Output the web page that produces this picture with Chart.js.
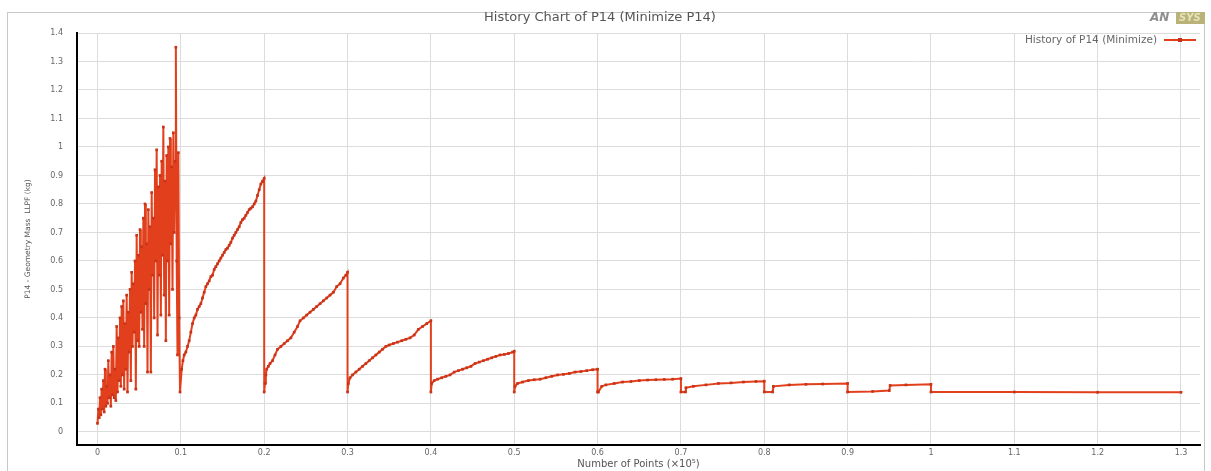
<!DOCTYPE html>
<html>
<head>
<meta charset="utf-8">
<title>History Chart of P14</title>
<script src="https://cdn.jsdelivr.net/npm/chart.js@4/dist/chart.umd.min.js"></script>
<style>
  html, body { margin: 0; padding: 0; background: #fff; }
  #historyChart { display: block; }
</style>
</head>
<body>
<canvas id="historyChart" width="1211" height="471"></canvas>
<script>
// Number of points (x axis) and P14 mass (y axis)
const pointNumber = [
  0.000, 0.001, 0.002, 0.003, 0.004, 0.005, 0.006, 0.007, 0.008, 0.009,
  0.010, 0.011, 0.012, 0.013, 0.014, 0.015, 0.016, 0.017, 0.018, 0.019,
  0.020, 0.021, 0.022, 0.023, 0.024, 0.025, 0.026, 0.027, 0.028, 0.029,
  0.030, 0.031, 0.032, 0.033, 0.034, 0.035, 0.036, 0.037, 0.038, 0.039,
  0.040, 0.041, 0.042, 0.043, 0.044, 0.045, 0.046, 0.047, 0.048, 0.049,
  0.050, 0.051, 0.052, 0.053, 0.054, 0.055, 0.056, 0.057, 0.058, 0.059,
  0.060, 0.061, 0.062, 0.063, 0.064, 0.065, 0.066, 0.067, 0.068, 0.069,
  0.070, 0.071, 0.072, 0.073, 0.074, 0.075, 0.076, 0.077, 0.078, 0.079,
  0.080, 0.081, 0.082, 0.083, 0.084, 0.085, 0.086, 0.087, 0.088, 0.089,
  0.090, 0.091, 0.092, 0.093, 0.094, 0.095, 0.096, 0.097, 0.098, 0.099,
  // 0.1 - 0.2
  0.101, 0.1025, 0.104, 0.106, 0.108, 0.110, 0.112, 0.114, 0.116, 0.118,
  0.120, 0.122, 0.124, 0.126, 0.128, 0.130, 0.132, 0.134, 0.136, 0.138,
  0.140, 0.142, 0.144, 0.146, 0.148, 0.150, 0.152, 0.154, 0.156, 0.158,
  0.160, 0.162, 0.164, 0.166, 0.168, 0.170, 0.172, 0.174, 0.176, 0.178,
  0.180, 0.182, 0.184, 0.186, 0.188, 0.190, 0.192, 0.194, 0.196, 0.198,
  0.200, 0.200,
  // 0.2 - 0.3
  0.201, 0.202, 0.203, 0.205, 0.207, 0.210, 0.213, 0.216, 0.220, 0.224,
  0.228, 0.232, 0.236, 0.240, 0.243, 0.247, 0.251, 0.255, 0.259, 0.263,
  0.267, 0.271, 0.275, 0.279, 0.283, 0.287, 0.291, 0.295, 0.298, 0.300,
  0.300,
  // 0.3 - 0.4
  0.301, 0.303, 0.306, 0.310, 0.314, 0.318, 0.322, 0.326, 0.330, 0.334,
  0.338, 0.342, 0.346, 0.350, 0.355, 0.360, 0.365, 0.370, 0.375, 0.380,
  0.385, 0.390, 0.395, 0.400, 0.400,
  // 0.4 - 0.5
  0.401, 0.404, 0.408, 0.413, 0.418, 0.423, 0.428, 0.433, 0.438, 0.443,
  0.448, 0.453, 0.458, 0.463, 0.468, 0.473, 0.478, 0.483, 0.488, 0.493,
  0.498, 0.500, 0.500,
  // 0.5 - 0.6
  0.501, 0.504, 0.510, 0.517, 0.524, 0.531, 0.538, 0.545, 0.552, 0.559,
  0.566, 0.573, 0.580, 0.587, 0.594, 0.600, 0.600,
  // 0.6 - 0.7
  0.601, 0.605, 0.610, 0.620, 0.630, 0.640, 0.650, 0.660, 0.670, 0.680,
  0.690, 0.700, 0.700,
  // 0.7 - 0.8
  0.705, 0.706, 0.715, 0.730, 0.745, 0.760, 0.775, 0.790, 0.800, 0.800,
  // 0.8 - 1.3
  0.810, 0.811, 0.830, 0.850, 0.870, 0.900, 0.900, 0.930, 0.950, 0.951,
  0.970, 1.000, 1.000, 1.100, 1.200, 1.300
];

const massValues = [
  0.03, 0.08, 0.05, 0.12, 0.06, 0.15, 0.08, 0.18, 0.07, 0.22,
  0.09, 0.16, 0.10, 0.25, 0.12, 0.20, 0.09, 0.28, 0.13, 0.30,
  0.12, 0.22, 0.11, 0.37, 0.14, 0.33, 0.18, 0.40, 0.16, 0.44,
  0.20, 0.46, 0.15, 0.38, 0.22, 0.48, 0.14, 0.42, 0.28, 0.50,
  0.18, 0.56, 0.30, 0.52, 0.35, 0.60, 0.15, 0.69, 0.32, 0.62,
  0.30, 0.71, 0.42, 0.65, 0.36, 0.75, 0.30, 0.80, 0.45, 0.66,
  0.21, 0.78, 0.50, 0.72, 0.21, 0.84, 0.55, 0.75, 0.40, 0.92,
  0.60, 0.99, 0.34, 0.86, 0.55, 0.90, 0.41, 0.95, 0.62, 1.07,
  0.48, 0.88, 0.32, 0.97, 0.60, 1.00, 0.41, 1.03, 0.66, 0.93,
  0.50, 1.05, 0.70, 0.95, 1.35, 0.60, 0.27, 0.98, 0.40, 0.14,
  // 0.1 - 0.2
  0.22, 0.25, 0.27, 0.28, 0.30, 0.32, 0.35, 0.38, 0.40, 0.41,
  0.43, 0.44, 0.45, 0.47, 0.49, 0.51, 0.52, 0.53, 0.545, 0.55,
  0.57, 0.58, 0.59, 0.60, 0.61, 0.62, 0.63, 0.64, 0.645, 0.655,
  0.665, 0.68, 0.69, 0.70, 0.71, 0.72, 0.735, 0.745, 0.75, 0.76,
  0.77, 0.78, 0.785, 0.79, 0.80, 0.81, 0.83, 0.85, 0.87, 0.88,
  0.89, 0.14,
  // 0.2 - 0.3
  0.17, 0.20, 0.22, 0.23, 0.24, 0.25, 0.27, 0.29, 0.30, 0.31,
  0.32, 0.33, 0.35, 0.37, 0.39, 0.40, 0.41, 0.42, 0.43, 0.44,
  0.45, 0.46, 0.47, 0.48, 0.49, 0.51, 0.52, 0.54, 0.55, 0.56,
  0.14,
  // 0.3 - 0.4
  0.17, 0.19, 0.20, 0.21, 0.22, 0.23, 0.24, 0.25, 0.26, 0.27,
  0.28, 0.29, 0.30, 0.305, 0.31, 0.315, 0.32, 0.325, 0.33, 0.34,
  0.36, 0.37, 0.38, 0.39, 0.14,
  // 0.4 - 0.5
  0.17, 0.18, 0.185, 0.19, 0.195, 0.20, 0.21, 0.215, 0.22, 0.225,
  0.23, 0.24, 0.245, 0.25, 0.255, 0.26, 0.265, 0.27, 0.272, 0.275,
  0.28, 0.283, 0.14,
  // 0.5 - 0.6
  0.16, 0.17, 0.175, 0.18, 0.183, 0.185, 0.19, 0.195, 0.20, 0.202,
  0.205, 0.21, 0.212, 0.215, 0.218, 0.22, 0.14,
  // 0.6 - 0.7
  0.14, 0.16, 0.165, 0.17, 0.175, 0.177, 0.18, 0.182, 0.183, 0.184,
  0.185, 0.187, 0.14,
  // 0.7 - 0.8
  0.14, 0.155, 0.16, 0.165, 0.17, 0.172, 0.175, 0.177, 0.178, 0.14,
  // 0.8 - 1.3
  0.14, 0.16, 0.165, 0.167, 0.168, 0.17, 0.14, 0.142, 0.145, 0.163,
  0.165, 0.167, 0.14, 0.14, 0.139, 0.139
];

const seriesLabel = "History of P14 (Minimize)";
const lineColor = "#e2401c";
const markerColor = "#c8341a";

// Frame, logo and the legend drawn in the top right corner of the plot
const framePlugin = {
  id: "frame",
  beforeDraw(chart) {
    const c = chart.ctx;
    c.save();
    c.fillStyle = "#fff";
    c.fillRect(0, 0, chart.width, chart.height);
    c.strokeStyle = "#c8c8c8";
    c.lineWidth = 1;
    c.strokeRect(7.5, 12.5, 1197, 470);
    c.restore();
  },
  afterDraw(chart) {
    const c = chart.ctx;
    c.save();
    // logo
    c.fillStyle = "#b9b37a";
    c.fillRect(1176, 12, 29, 12);
    c.font = "bold italic 12px 'DejaVu Sans'";
    c.textBaseline = "middle";
    c.fillStyle = "#8f8f8f";
    c.fillText("AN", 1150, 18);
    c.font = "bold italic 10px 'DejaVu Sans'";
    c.fillStyle = "#e6e2b8";
    c.fillText("SYS", 1179, 18);
    // legend
    const y = 40;
    c.font = "10.5px 'DejaVu Sans'";
    c.fillStyle = "#666";
    c.textAlign = "right";
    c.fillText(seriesLabel, 1157, y);
    c.strokeStyle = lineColor;
    c.lineWidth = 2;
    c.beginPath();
    c.moveTo(1164, y);
    c.lineTo(1196, y);
    c.stroke();
    c.fillStyle = markerColor;
    c.fillRect(1178, y - 2, 4, 4);
    c.restore();
  }
};

const points = pointNumber.map((x, i) => ({ x: x, y: massValues[i] }));

new Chart(document.getElementById("historyChart"), {
  type: "scatter",
  data: {
    datasets: [
      {
        label: seriesLabel,
        data: points,
        showLine: true,
        borderColor: lineColor,
        backgroundColor: lineColor,
        borderWidth: 2,
        pointStyle: "rect",
        pointRadius: 1.9,
        pointBackgroundColor: markerColor,
        pointBorderColor: markerColor,
        pointBorderWidth: 0
      }
    ]
  },
  options: {
    responsive: false,
    animation: false,
    layout: { padding: { left: 0, right: 11, top: 0, bottom: 0 } },
    plugins: {
      title: {
        display: true,
        text: "History Chart of P14 (Minimize P14)",
        color: "#555",
        font: { family: "DejaVu Sans", size: 13, weight: "normal" },
        padding: { top: 10, bottom: 7.4 }
      },
      legend: { display: false },
      tooltip: { enabled: false }
    },
    scales: {
      x: {
        type: "linear",
        min: -0.0246,
        max: 1.3228,
        afterFit(scale) { scale.height = 26; },
        ticks: {
          stepSize: 0.1,
          includeBounds: false,
          color: "#666",
          font: { family: "DejaVu Sans", size: 8 },
          padding: 3,
          maxRotation: 0,
          callback: (v) => String(+v.toFixed(2))
        },
        grid: { color: "#dcdcdc", drawTicks: false },
        border: { color: "#000", width: 2 },
        title: {
          display: true,
          text: "Number of Points (×10⁵)",
          color: "#555",
          font: { family: "DejaVu Sans", size: 10 },
          padding: { top: 0, bottom: 1 }
        }
      },
      y: {
        type: "linear",
        min: -0.046,
        max: 1.4,
        afterFit(scale) { scale.width = 77; },
        ticks: {
          stepSize: 0.1,
          includeBounds: false,
          color: "#666",
          font: { family: "DejaVu Sans", size: 8 },
          padding: 14,
          callback: (v) => String(+v.toFixed(2))
        },
        grid: { color: "#dcdcdc", drawTicks: false },
        border: { color: "#000", width: 2 },
        title: {
          display: true,
          text: "P14 - Geometry Mass  LLPF (kg)",
          color: "#555",
          font: { family: "DejaVu Sans", size: 7.5 },
          padding: { top: 24, bottom: 0 }
        }
      }
    }
  },
  plugins: [framePlugin]
});
</script>
</body>
</html>
